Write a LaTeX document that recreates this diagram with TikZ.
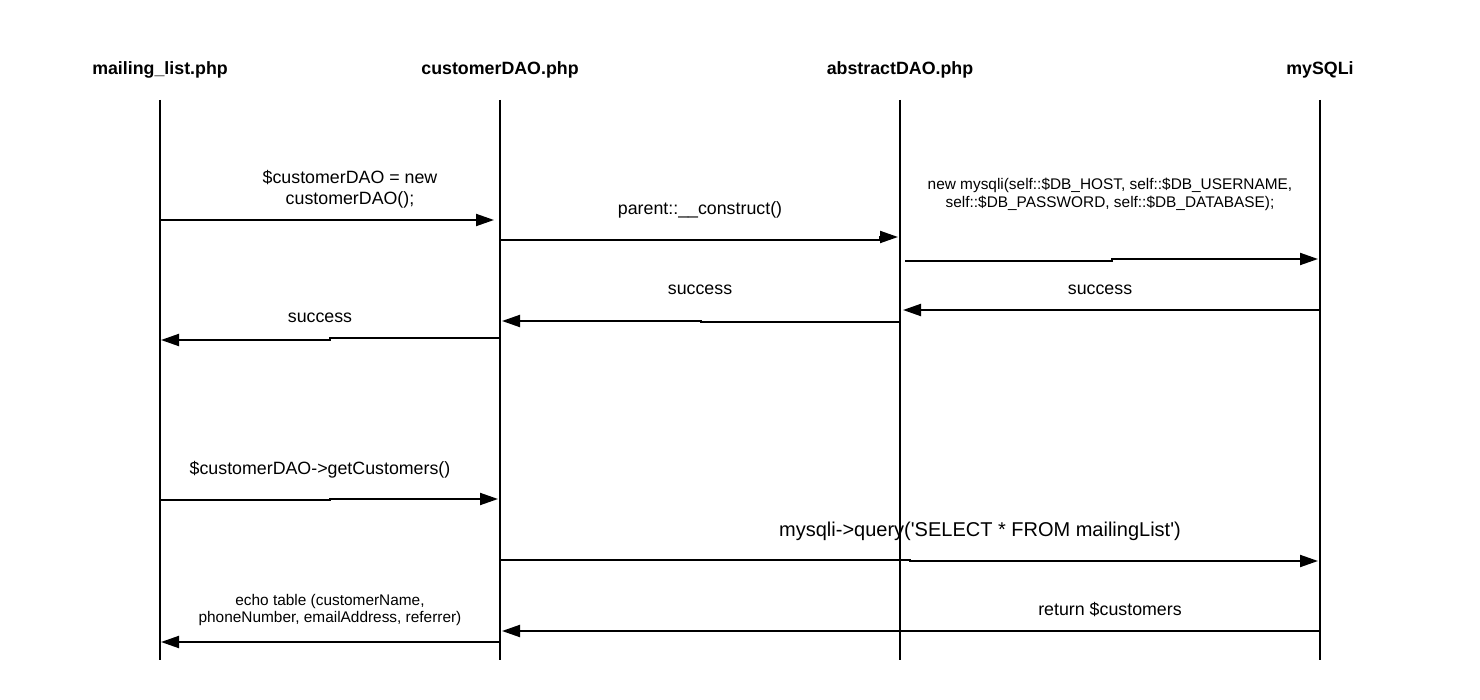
\documentclass[tikz,border=0pt]{standalone}
\usepackage{fontspec}
\setmainfont{Liberation Sans}
\usetikzlibrary{arrows.meta}
\begin{document}
\begin{tikzpicture}[x=1pt,y=-1pt,
  hdr/.style={font=\fontsize{17.8}{21}\selectfont\bfseries, inner sep=0pt},
  lbl/.style={font=\fontsize{17.8}{21}\selectfont, inner sep=0pt, align=center},
  small/.style={font=\fontsize{15.4}{17.5}\selectfont, inner sep=0pt, align=center},
  big/.style={font=\fontsize{20}{23}\selectfont, inner sep=0pt},
  lifeline/.style={line width=2pt},
  msg/.style={line width=2pt, -{Triangle[length=18pt,width=12pt]}}]
\fill[white] (0,0) rectangle (1480,700);
\useasboundingbox (0,0) rectangle (1480,700);

% participants
\node[hdr] (pm) at (160,70) {mailing\_list.php};
\node[hdr] (pc) at (500,70) {customerDAO.php};
\node[hdr] (pa) at (900,70) {abstractDAO.php};
\node[hdr] (ps) at (1320,70) {mySQLi};

% lifelines
\coordinate (mT) at (160,100); \coordinate (mB) at (160,660);
\coordinate (cT) at (500,100); \coordinate (cB) at (500,660);
\coordinate (aT) at (900,100); \coordinate (aB) at (900,660);
\coordinate (sT) at (1320,100); \coordinate (sB) at (1320,660);
\draw[lifeline] (mT) -- (mB);
\draw[lifeline] (cT) -- (cB);
\draw[lifeline] (aT) -- (aB);
\draw[lifeline] (sT) -- (sB);

% message end points
\coordinate (m1s) at (160,220);  \coordinate (m1e) at (494,220);
\coordinate (m2s) at (500,240);  \coordinate (m2e) at (898,237);
\coordinate (m3s) at (905,261);  \coordinate (m3e) at (1318,259);
\coordinate (m4s) at (1320,310); \coordinate (m4e) at (903,310);
\coordinate (m5s) at (900,322);  \coordinate (m5e) at (502,321);
\coordinate (m6s) at (500,338);  \coordinate (m6e) at (161,340);
\coordinate (m7s) at (160,500);  \coordinate (m7e) at (498,499);
\coordinate (m8s) at (500,560);  \coordinate (m8e) at (1318,561);
\coordinate (m9s) at (1320,631); \coordinate (m9e) at (502,631);
\coordinate (m10s) at (500,642); \coordinate (m10e) at (161,642);

% messages
\draw[msg] (m1s) -- (m1e);
\draw[msg] (m2s) -- ++(380,0) -- ++(0,-3) -- (m2e);
\draw[msg] (m3s) -- ++(207,0) -- ++(0,-2) -- (m3e);
\draw[msg] (m4s) -- (m4e);
\draw[msg] (m5s) -- ++(-199,0) -- ++(0,-1) -- (m5e);
\draw[msg] (m6s) -- ++(-170,0) -- ++(0,2) -- (m6e);
\draw[msg] (m7s) -- ++(170,0) -- ++(0,-1) -- (m7e);
\draw[msg] (m8s) -- ++(410,0) -- ++(0,1) -- (m8e);
\draw[msg] (m9s) -- (m9e);
\draw[msg] (m10s) -- (m10e);

% message labels
\node[lbl] (t1) at (350,189) {\$customerDAO = new\\customerDAO();};
\node[lbl] (t2) at (700,210) {parent::\_\_construct()};
\node[small] (t3) at (1110,194.5) {new mysqli(self::\$DB\_HOST, self::\$DB\_USERNAME,\\self::\$DB\_PASSWORD, self::\$DB\_DATABASE);};
\node[lbl] (t4) at (1100,290) {success};
\node[lbl] (t5) at (700,290) {success};
\node[lbl] (t6) at (320,318) {success};
\node[lbl] (t7) at (320,470) {\$customerDAO->getCustomers()};
\node[big] (t8) at (980,531) {mysqli->query(\textquotesingle SELECT * FROM mailingList\textquotesingle)};
\node[lbl] (t9) at (1110,610) {return \$customers};
\node[small] (t10) at (330,610) {echo table (customerName,\\phoneNumber, emailAddress, referrer)};
\end{tikzpicture}
\end{document}
